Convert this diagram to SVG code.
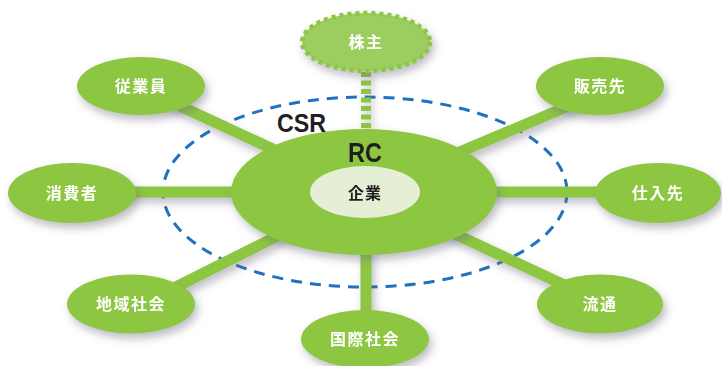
<svg xmlns="http://www.w3.org/2000/svg" width="722" height="366" viewBox="0 0 722 366">
<defs>
<filter id="sh" x="-30%" y="-30%" width="160%" height="180%">
<feDropShadow dx="3" dy="5" stdDeviation="4" flood-color="#6a6a7a" flood-opacity="0.45"/>
</filter>
<style>
.node{fill:#8dc63f;}
.lbl{font-family:"Noto Sans CJK JP","Noto Sans",sans-serif;font-weight:bold;font-size:16px;fill:#ffffff;text-anchor:middle;dominant-baseline:central;letter-spacing:1.5px;}
.link{stroke:#8dc63f;stroke-width:11;fill:none;}
.en{font-family:"Liberation Sans",Arial,sans-serif;font-weight:bold;fill:#231f20;}
</style>
</defs>
<rect width="722" height="366" fill="#ffffff"/>
<ellipse id="csr-boundary" cx="365" cy="192" rx="202" ry="95" fill="none" stroke="#1f72bf" stroke-width="3" stroke-dasharray="11 8"/>
<g id="connectors" filter="url(#sh)">
<line class="link" x1="150" y1="92" x2="365" y2="192"/>
<line class="link" x1="590" y1="97" x2="365" y2="192"/>
<line class="link" x1="100" y1="192" x2="630" y2="192"/>
<line class="link" x1="150" y1="300" x2="365" y2="192"/>
<line class="link" x1="590" y1="297" x2="365" y2="192"/>
<line class="link" x1="366" y1="192" x2="366" y2="320"/>
<line x1="366" y1="72" x2="366" y2="130" stroke="#8dc63f" stroke-width="10" stroke-dasharray="5 3.5"/>
</g>
<g id="shareholder" filter="url(#sh)">
<ellipse cx="366" cy="42" rx="64" ry="29" fill="#9ccd5e" stroke="#8dc63f" stroke-width="4.5" stroke-dasharray="4 4"/>
<text class="lbl" x="366" y="41">株主</text>
</g>
<g id="employee" filter="url(#sh)">
<ellipse class="node" cx="141" cy="86" rx="64" ry="29"/>
<text class="lbl" x="141" y="85">従業員</text>
</g>
<g id="customer" filter="url(#sh)">
<ellipse class="node" cx="600" cy="86" rx="64" ry="29"/>
<text class="lbl" x="600" y="85">販売先</text>
</g>
<g id="consumer" filter="url(#sh)">
<ellipse class="node" cx="72" cy="193" rx="64" ry="30"/>
<text class="lbl" x="72" y="192">消費者</text>
</g>
<g id="supplier" filter="url(#sh)">
<ellipse class="node" cx="658" cy="193" rx="63" ry="30"/>
<text class="lbl" x="658" y="192">仕入先</text>
</g>
<g id="community" filter="url(#sh)">
<ellipse class="node" cx="131" cy="304" rx="64" ry="29.5"/>
<text class="lbl" x="131" y="303">地域社会</text>
</g>
<g id="distribution" filter="url(#sh)">
<ellipse class="node" cx="600" cy="304" rx="63" ry="29.5"/>
<text class="lbl" x="600" y="303">流通</text>
</g>
<g id="international" filter="url(#sh)">
<ellipse class="node" cx="365" cy="339" rx="64" ry="29"/>
<text class="lbl" x="365" y="338">国際社会</text>
</g>
<g id="company" filter="url(#sh)">
<ellipse class="node" cx="364" cy="192" rx="133" ry="63"/>
<ellipse cx="365" cy="192" rx="55" ry="26" fill="#e5efd5"/>
<text x="365" y="192" style="font-family:'Noto Sans CJK JP','Noto Sans',sans-serif;font-weight:bold;font-size:16px;fill:#231f20;text-anchor:middle;dominant-baseline:central;letter-spacing:1px">企業</text>
<text class="en" x="348" y="162" font-size="28" textLength="34" lengthAdjust="spacingAndGlyphs">RC</text>
</g>
<text id="csr-label" class="en" x="277" y="132" font-size="26" textLength="49" lengthAdjust="spacingAndGlyphs">CSR</text>
</svg>
